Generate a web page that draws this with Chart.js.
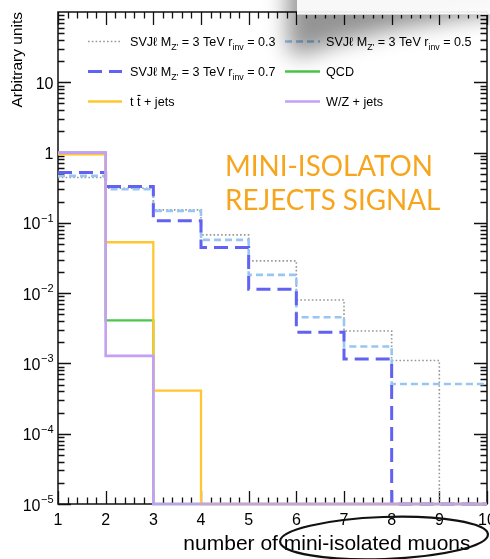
<!DOCTYPE html>
<html>
<head>
<meta charset="utf-8">
<script src="https://cdn.jsdelivr.net/npm/chart.js@4/dist/chart.umd.min.js"></script>
<style>
  html, body { margin: 0; padding: 0; background: #fff; }
  #wrap { position: relative; width: 490px; height: 559px; overflow: hidden; }
</style>
</head>
<body>
<div id="wrap"><canvas id="c" width="490" height="559"></canvas></div>
<script>
// Bin edges of the muon-multiplicity histogram
const binEdges = [1, 2, 3, 4, 5, 6, 7, 8, 9, 10];

// Normalised bin contents (one value per bin, 1-2 ... 9-10)
const svjR03 = [0.441, 0.31, 0.153, 0.0675, 0.0288, 0.0080, 0.0029, 0.0011, 0];
const svjR05 = [0.466, 0.30, 0.148, 0.0573, 0.0182, 0.00454, 0.00174, 0.00051, 0.00051];
const svjR07 = [0.519, 0.328, 0.107, 0.0445, 0.0114, 0.00278, 0.00116, 0, 0];
const qcd    = [0.996, 0.0041, 0, 0, 0, 0, 0, 0, 0];
const ttbar  = [0.946, 0.053, 0.00041, 0, 0, 0, 0, 0, 0];
const wzJets = [0.9987, 0.00128, 0, 0, 0, 0, 0, 0, 0];

// Axis ticks and labels
const xTickLabels = ['1', '2', '3', '4', '5', '6', '7', '8', '9', '10'];
const yTickValues = [10, 1, 0.1, 0.01, 0.001, 0.0001, 0.00001];
const yTickBases  = ['10', '1', '10', '10', '10', '10', '10'];
const yTickExps   = ['', '', '\u22121', '\u22122', '\u22123', '\u22124', '\u22125'];
const Y_MIN = 1e-5, Y_MAX = 100;

const FONT = '"Liberation Sans", Arial, Helvetica, sans-serif';

// Build step-histogram points: left edge of each bin carries its value,
// empty bins sit on the bottom of the log axis
function histPoints(vals) {
  const pts = vals.map((v, i) => ({ x: binEdges[i], y: v > 0 ? v : Y_MIN }));
  pts.push({ x: binEdges[vals.length], y: pts[pts.length - 1].y });
  return pts;
}

const series = [
  { data: svjR03, color: '#979797', width: 1.6, dash: [1.6, 2.2] },
  { data: svjR05, color: '#98c6f4', width: 2.6, dash: [7, 4] },
  { data: svjR07, color: '#6262f2', width: 3,   dash: [14, 7] },
  { data: qcd,    color: '#48c748', width: 2.3, dash: [] },
  { data: ttbar,  color: '#ffc632', width: 2.3, dash: [] },
  { data: wzJets, color: '#c59ff3', width: 2.6, dash: [] },
];

// Legend entries: rich text segments (sub = subscript, bar = overline)
const svjText = (r) => [{ t: 'SVJ\u2113 M' }, { t: "Z'", sub: true }, { t: ' = 3 TeV  r' }, { t: 'inv', sub: true }, { t: ' = ' + r }];
const legendRows = [
  [ { s: 0, text: svjText('0.3') }, { s: 1, text: svjText('0.5') } ],
  [ { s: 2, text: svjText('0.7') }, { s: 3, text: [{ t: 'QCD' }] } ],
  [ { s: 4, text: [{ t: 't ' }, { t: 't', bar: true }, { t: ' + jets' }] },
    { s: 5, text: [{ t: 'W/Z + jets' }] } ],
];

const noteLines = ['MINI-ISOLATON', 'REJECTS SIGNAL'];

function drawRich(ctx, x, baseY, segs, size) {
  let cx = x;
  for (const sg of segs) {
    const fs = sg.sub ? size * 0.7 : size;
    ctx.font = fs + 'px ' + FONT;
    const dy = sg.sub ? size * 0.3 : 0;
    // collapse the double space a bit
    const txt = sg.t.replace('  ', ' ');
    ctx.fillText(txt, cx, baseY + dy);
    const w = ctx.measureText(txt).width;
    if (sg.bar) {
      ctx.fillRect(cx + 0.5, baseY - size * 0.88, w - 0.5, 1.1);
    }
    cx += w + (sg.t.endsWith('  r') ? 0 : 0);
  }
}

// ROOT-style frame, inward ticks and labels
const framePlugin = {
  id: 'frame',
  beforeDatasetsDraw(chart) {
    const { ctx, chartArea: a, scales: { x, y } } = chart;
    ctx.save();
    ctx.strokeStyle = '#111';
    ctx.lineWidth = 1.3;
    ctx.beginPath();
    // x ticks, bottom and top
    for (let i = 0; i <= 45; i++) {
      const v = 1 + i * 0.2;
      const px = Math.round(x.getPixelForValue(v)) + 0.5;
      const major = i % 5 === 0;
      const len = major ? 13 : 6.5;
      ctx.moveTo(px, a.bottom); ctx.lineTo(px, a.bottom - len);
      ctx.moveTo(px, a.top); ctx.lineTo(px, a.top + len);
    }
    // y ticks, left and right
    for (let k = -5; k <= 1; k++) {
      for (let d = 1; d <= 9; d++) {
        const v = d * Math.pow(10, k);
        if (v > Y_MAX) break;
        const py = Math.round(y.getPixelForValue(v)) + 0.5;
        const len = d === 1 ? 13 : 6.5;
        ctx.moveTo(a.left, py); ctx.lineTo(a.left + len, py);
        ctx.moveTo(a.right, py); ctx.lineTo(a.right - len, py);
      }
    }
    ctx.stroke();
    ctx.lineWidth = 1.5;
    ctx.strokeRect(a.left, a.top, a.right - a.left, a.bottom - a.top);

    // tick labels
    ctx.fillStyle = '#000';
    ctx.font = '16px ' + FONT;
    ctx.textAlign = 'center';
    ctx.textBaseline = 'alphabetic';
    xTickLabels.forEach((lab, i) => {
      ctx.fillText(lab, x.getPixelForValue(binEdges[i]), a.bottom + 21);
    });
    ctx.textAlign = 'right';
    yTickValues.forEach((v, i) => {
      const py = y.getPixelForValue(v);
      let rx = 53.5;
      if (yTickExps[i]) {
        ctx.font = '11px ' + FONT;
        ctx.fillText(yTickExps[i], rx, py - 1);
        rx -= ctx.measureText(yTickExps[i]).width + 0.5;
      }
      ctx.font = '16px ' + FONT;
      ctx.fillText(yTickBases[i], rx, py + 6.5);
    });

    // axis titles
    ctx.font = '21px ' + FONT;
    ctx.textAlign = 'right';
    ctx.fillText('number of mini-isolated muons', 470.5, 550);
    ctx.save();
    ctx.translate(18, a.top);
    ctx.rotate(-Math.PI / 2);
    ctx.font = '15.5px ' + FONT;
    ctx.textAlign = 'right';
    ctx.textBaseline = 'middle';
    ctx.fillText('Arbitrary units', 0, 0);
    ctx.restore();
    ctx.restore();
  },
  afterDatasetsDraw(chart) {
    const { ctx } = chart;
    ctx.save();
    // legend
    const colX = [[88, 122, 130], [285, 320, 326]];
    const rowY = [41.5, 71.5, 101.5];
    legendRows.forEach((row, r) => {
      row.forEach((ent, c) => {
        const st = series[ent.s];
        ctx.strokeStyle = st.color;
        ctx.lineWidth = st.width;
        ctx.setLineDash(st.dash);
        ctx.beginPath();
        ctx.moveTo(colX[c][0], rowY[r]);
        ctx.lineTo(colX[c][1], rowY[r]);
        ctx.stroke();
        ctx.setLineDash([]);
        ctx.fillStyle = '#000';
        ctx.textAlign = 'left';
        ctx.textBaseline = 'alphabetic';
        drawRich(ctx, colX[c][2], rowY[r] + 4.5, ent.text, 12.6);
      });
    });

    // annotation
    ctx.fillStyle = '#f7a51c';
    ctx.textAlign = 'left';
    ctx.textBaseline = 'alphabetic';
    ctx.font = '400 29px Lato, "Open Sans", sans-serif';
    const w0 = ctx.measureText(noteLines[0]).width;
    const sx = 208 / w0;
    ctx.save();
    ctx.translate(225, 0);
    ctx.scale(sx, 1);
    ctx.fillText(noteLines[0], 0, 176);
    ctx.fillText(noteLines[1], 0, 210);
    ctx.restore();
    ctx.restore();
  },
  afterDraw(chart) {
    const { ctx } = chart;
    ctx.save();
    // overlapping card in the top-right corner and its soft shadow
    ctx.filter = 'blur(11px)';
    ctx.fillStyle = 'rgba(0,0,0,0.42)';
    ctx.beginPath();
    ctx.moveTo(287, -30);
    ctx.lineTo(520, -30);
    ctx.lineTo(520, 10);
    ctx.lineTo(460, 18);
    ctx.lineTo(400, 28);
    ctx.lineTo(340, 42);
    ctx.lineTo(300, 56);
    ctx.lineTo(288, 50);
    ctx.closePath();
    ctx.fill();
    ctx.filter = 'none';
    ctx.fillStyle = 'rgba(255,255,255,0.93)';
    ctx.fillRect(297, 0, 193, 15);
    ctx.fillStyle = 'rgba(200,200,200,0.8)';
    ctx.fillRect(297, 14, 193, 1);

    // hand-drawn ellipse around the axis title
    ctx.strokeStyle = '#111';
    ctx.lineWidth = 2.2;
    ctx.beginPath();
    ctx.ellipse(384, 538, 104, 21, -0.035, 0, Math.PI * 2);
    ctx.stroke();
    ctx.restore();
  }
};

const datasets = series.map((s, i) => ({
  data: histPoints(s.data),
  borderColor: s.color,
  borderWidth: s.width,
  borderDash: s.dash,
  stepped: true,
  fill: false,
  pointRadius: 0,
  clip: 4,
  order: series.length - i,
}));

new Chart(document.getElementById('c'), {
  type: 'line',
  data: { datasets },
  options: {
    responsive: false,
    animation: false,
    devicePixelRatio: 1,
    layout: { padding: { left: 58, right: 3, top: 12, bottom: 55 } },
    plugins: { legend: { display: false }, tooltip: { enabled: false } },
    scales: {
      x: { type: 'linear', min: 1, max: 10, display: false },
      y: { type: 'logarithmic', min: Y_MIN, max: Y_MAX, display: false },
    },
  },
  plugins: [framePlugin],
});
</script>
</body>
</html>
